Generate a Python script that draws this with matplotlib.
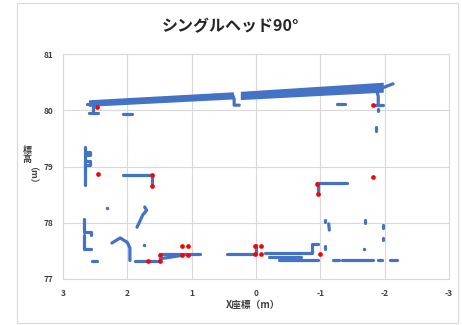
import matplotlib
matplotlib.use("Agg")
import matplotlib.pyplot as plt
from matplotlib.patches import Rectangle

plt.rcParams['font.family'] = ['Noto Sans CJK JP', 'DejaVu Sans']

title = "シングルヘッド90°"
xlabel = "X座標（m）"
x_ticks = [3, 2, 1, 0, -1, -2, -3]
y_ticks = [77, 78, 79, 80, 81]

# ceiling band (top edge, bottom edge) for the two parts
ceil_left_x = [2.58, 0.36]
ceil_left_top = [80.16, 80.30]
ceil_left_bot = [80.08, 80.21]
ceil_right_x = [0.22, -1.97]
ceil_right_top = [80.31, 80.47]
ceil_right_bot = [80.20, 80.33]

# point-cloud segments (x list, y list)
segments = [
    ([2.62, 2.50], [80.12, 80.12]),
    ([2.53, 2.53], [80.12, 79.95]),
    ([2.59, 2.46], [79.95, 79.95]),
    ([0.36, 0.34, 0.34, 0.26], [80.26, 80.20, 80.09, 80.09]),
    ([-1.97, -2.13], [80.40, 80.47]),
    ([-1.88, -1.90, -1.90], [80.33, 80.25, 80.11]),
    ([-1.84, -1.98], [80.10, 80.10]),
    ([2.07, 1.93], [79.93, 79.93]),
    ([-1.26, -1.38], [80.12, 80.12]),
    ([-1.90, -1.90], [80.02, 79.98]),
    ([-1.87, -1.87], [79.70, 79.64]),
    ([2.66, 2.66], [79.35, 78.67]),
    ([2.66, 2.58, 2.58, 2.66], [79.26, 79.26, 79.20, 79.20]),
    ([2.66, 2.58, 2.58, 2.66], [79.09, 79.09, 79.02, 79.02]),
    ([2.07, 1.62, 1.62], [78.85, 78.85, 78.66]),
    ([2.67, 2.67, 2.56, 2.56], [78.06, 77.83, 77.83, 77.78]),
    ([2.67, 2.67, 2.56], [77.78, 77.53, 77.53]),
    ([2.55, 2.47], [77.32, 77.32]),
    ([1.73, 1.70, 1.76, 1.80, 1.85], [78.28, 78.22, 78.14, 78.04, 77.92]),
    ([2.24, 2.11, 2.00, 1.96, 1.96], [77.64, 77.73, 77.65, 77.55, 77.33]),
    ([1.88, 1.49], [77.32, 77.32]),
    ([1.49, 1.15], [77.36, 77.42]),
    ([1.49, 0.87], [77.44, 77.44]),
    ([0.45, 0.00, 0.00], [77.44, 77.44, 77.60]),
    ([-0.14, -0.87, -0.87, -0.96], [77.46, 77.46, 77.62, 77.62]),
    ([-0.20, -0.70], [77.39, 77.39]),
    ([-0.35, -0.96], [77.33, 77.33]),
    ([-0.95, -1.42], [78.70, 78.70]),
    ([-0.96, -0.96], [78.70, 78.51]),
    ([-1.20, -1.29], [77.33, 77.33]),
    ([-1.34, -1.82], [77.33, 77.33]),
    ([-1.90, -1.96], [77.33, 77.33]),
    ([-2.08, -2.19], [77.33, 77.33]),
    ([-1.07, -1.07], [78.05, 78.01]),
    ([-1.13, -1.14], [77.98, 77.87]),
    ([-1.07, -1.07], [77.58, 77.54]),
    ([-1.69, -1.69], [78.05, 78.00]),
    ([-1.97, -1.97], [77.96, 77.91]),
    ([-1.97, -1.97], [77.73, 77.69]),
]

# isolated blue points
dots_x = [2.32, 1.74, -1.68]
dots_y = [78.26, 77.60, 77.53]

# red reference points
red_x = [2.47, -1.82, 2.46, 1.62, 1.62, -1.82, -0.95, -0.96,
         1.68, 1.49, 1.49, 1.15, 1.06, 1.15, 1.06,
         0.015, -0.07, 0.015, -0.07, -1.00]
red_y = [80.06, 80.09, 78.86, 78.85, 78.66, 78.81, 78.69, 78.51,
         77.32, 77.32, 77.42, 77.59, 77.59, 77.42, 77.42,
         77.59, 77.59, 77.44, 77.44, 77.44]

blue = '#4472C4'
grid = '#D9D9D9'

fig = plt.figure(figsize=(4.62, 3.25), dpi=100)
fig.patches.append(Rectangle((17/462, 2/325), 441/462, 320/325, transform=fig.transFigure,
                             fill=False, edgecolor=grid, linewidth=0.8))
ax = fig.add_axes([63/462, 46/325, 386/462, 225/325])

ax.fill(ceil_left_x + ceil_left_x[::-1], ceil_left_top + ceil_left_bot[::-1],
        color=blue, lw=1.5, ec=blue, zorder=3)
ax.fill(ceil_right_x + ceil_right_x[::-1], ceil_right_top + ceil_right_bot[::-1],
        color=blue, lw=1.5, ec=blue, zorder=3)
for sx, sy in segments:
    ax.plot(sx, sy, color=blue, lw=2.3, solid_capstyle='round',
            solid_joinstyle='round', zorder=3)
ax.plot(dots_x, dots_y, 'o', color=blue, ms=2.5, mew=0, zorder=3)
ax.plot(red_x, red_y, 'o', color='#FF0000', ms=3.4, mew=0, zorder=4)

ax.set_xlim(3, -3)
ax.set_ylim(77, 81)
ax.set_xticks(x_ticks)
ax.set_yticks(y_ticks)
ax.set_xticklabels([str(v) for v in x_ticks])
ax.set_yticklabels([str(v) for v in y_ticks])
ax.grid(True, color=grid, lw=0.8)
ax.set_axisbelow(True)
for s in ax.spines.values():
    s.set_color(grid)
    s.set_linewidth(0.8)
ax.tick_params(length=0, labelsize=6, labelcolor='#404040', pad=7)
for lab in ax.get_xticklabels() + ax.get_yticklabels():
    lab.set_fontweight('bold')

fig.text(230/462, 1 - 26/325, title, ha='center', va='center',
         fontsize=11.5, fontweight='bold', color='#262626')
fig.text(253/462, 1 - 305/325, xlabel, ha='center', va='center',
         fontsize=7, fontweight='bold', color='#404040')
fig.text(27/462, 1 - 155/325, "標\n高", ha='center', va='center',
         fontsize=6.5, fontweight='bold', color='#404040', linespacing=1.05)
fig.text(27/462, 1 - 179/325, "（m）", ha='center', va='center', rotation=-90,
         fontsize=6.5, fontweight='bold', color='#404040')

fig.savefig("out.png", dpi=100)
